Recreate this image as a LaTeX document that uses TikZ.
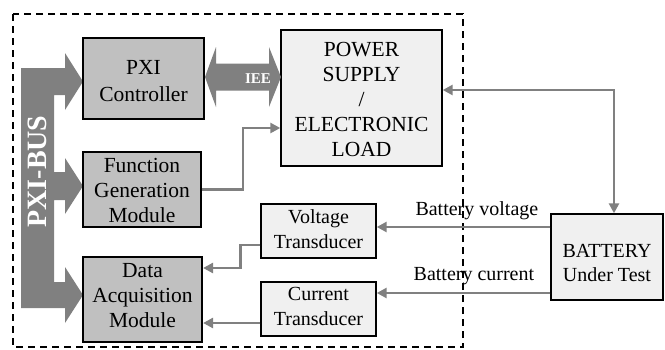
\documentclass[tikz,border=0pt]{standalone}
\usepackage{fontspec}
\setmainfont{Liberation Serif}
\usetikzlibrary{arrows.meta}
\definecolor{busgray}{RGB}{128,128,128}
\definecolor{darkfill}{RGB}{192,192,192}
\definecolor{lightfill}{RGB}{240,240,240}
\begin{document}
\begin{tikzpicture}[x=1pt,y=-1pt,
  darkbox/.style={draw=black, line width=2.2pt, fill=darkfill, inner sep=0pt},
  lightbox/.style={draw=black, line width=1.4pt, fill=lightfill, inner sep=0pt},
  boxtext/.style={align=center, inner sep=0pt, font=\fontsize{21.5}{25}\selectfont},
  smalltext/.style={align=center, inner sep=0pt, font=\fontsize{20}{25}\selectfont},
  conn/.style={draw=busgray, line width=2.7pt, -{Triangle[length=10pt,width=10pt]}},
  conn2/.style={draw=busgray, line width=2.7pt, {Triangle[length=10pt,width=10pt]}-{Triangle[length=10pt,width=10pt]}},
  lbl/.style={font=\fontsize{20}{24}\selectfont, inner sep=0pt}
]
\useasboundingbox (0,0) rectangle (665,349);
\fill[white] (0,0) rectangle (665,349);

% dashed frame
\draw[line width=1.3pt, dash pattern=on 7pt off 5pt] (13,14) rectangle (463,347);

% PXI-BUS shape
\fill[busgray] (21,68) -- (65,68) -- (65,53) -- (83,81.5) -- (65,110) -- (65,95) -- (54,95)
  -- (54,172) -- (65,172) -- (65,158) -- (83,186) -- (65,214) -- (65,200) -- (54,200)
  -- (54,282) -- (65,282) -- (65,267) -- (83,295) -- (65,323) -- (65,308) -- (21,308) -- cycle;
\node[rotate=90, text=white, inner sep=0pt, font=\bfseries\fontsize{28}{28}\selectfont] (bustext) at (37.5,171.5) {PXI-BUS};

% boxes
\node[darkbox, minimum width=121pt, minimum height=81pt,
  label={[boxtext, font=\fontsize{21.5}{27}\selectfont, yshift=-2.5pt]center:PXI\\Controller}] (pxi) at (143.5,78.5) {};
\node[darkbox, minimum width=118pt, minimum height=75pt,
  label={[boxtext, yshift=-1pt]center:Function\\Generation\\Module}] (fg) at (142,189.5) {};
\node[darkbox, minimum width=119pt, minimum height=85pt,
  label={[boxtext, yshift=3.5pt]center:Data\\Acquisition\\Module}] (da) at (142.5,299.5) {};
\node[lightbox, minimum width=161pt, minimum height=136pt,
  label={[boxtext, yshift=-1.5pt]center:POWER\\SUPPLY\\/\\ELECTRONIC\\LOAD}] (ps) at (361.5,98) {};
\node[lightbox, minimum width=115pt, minimum height=54pt,
  label={[smalltext, yshift=2pt]center:Voltage\\Transducer}] (vt) at (318.5,231) {};
\node[lightbox, minimum width=115pt, minimum height=54pt,
  label={[smalltext, yshift=3pt]center:Current\\Transducer}] (ct) at (318.5,309) {};
\node[lightbox, minimum width=112pt, minimum height=86pt,
  label={[smalltext, font=\fontsize{20}{24}\selectfont, yshift=-5.5pt]center:BATTERY\\Under Test}] (bat) at (607,257) {};

% IEE double arrow
\fill[busgray] (205,77) -- (216,47) -- (216,63.5) -- (269,63.5) -- (269,47) -- (281,77)
  -- (269,107) -- (269,90.5) -- (216,90.5) -- (216,107) -- cycle;
\node[text=white, inner sep=0pt, font=\bfseries\fontsize{15}{15}\selectfont] (iee) at (258,79) {IEE};

% connectors
\draw[conn2] ([yshift=8pt]ps.east) -| ([xshift=7pt]bat.north);
\draw[conn] (fg.east) -- ++(41,0) |- ([yshift=-30pt]ps.west);
\draw[conn] ([yshift=30pt]bat.west) -- ([yshift=4pt]vt.east)
  node[lbl, pos=0.423, above=6pt] (lv) {Battery voltage};
\draw[conn] ([yshift=-36pt]bat.west) -- ([yshift=16pt]ct.east)
  node[lbl, pos=0.44, above=7pt] (lc) {Battery current};
\draw[conn] ([yshift=-14pt]vt.west) -- ++(-20,0) |- ([yshift=31.5pt]da.east);
\draw[conn] ([yshift=-14pt]ct.west) -- ([yshift=-14pt]ct.west -| da.east);
\end{tikzpicture}
\end{document}
